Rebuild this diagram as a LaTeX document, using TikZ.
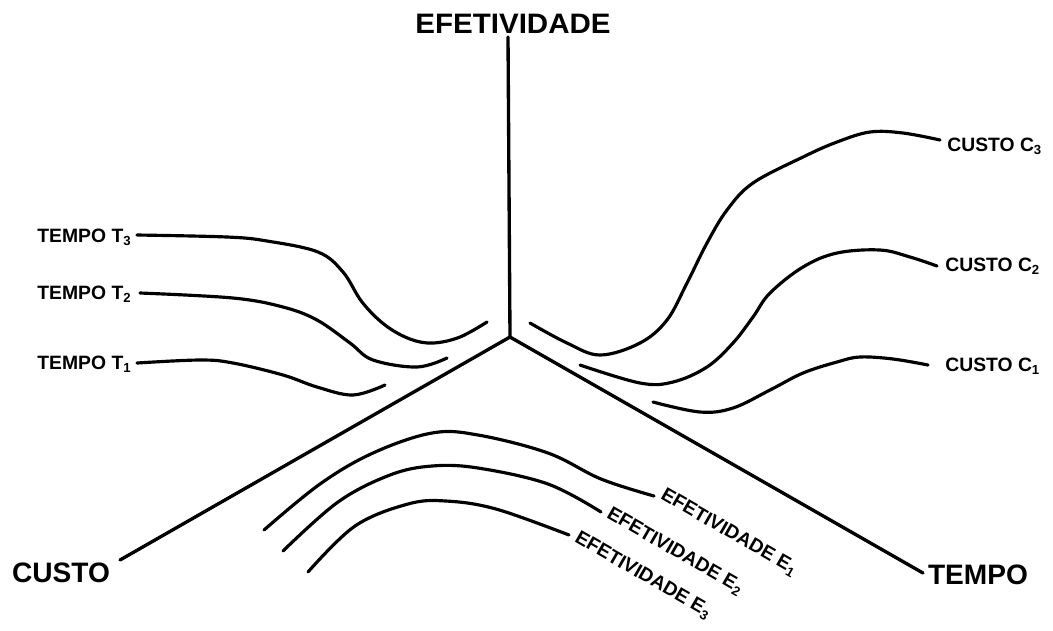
\documentclass[tikz,border=0pt]{standalone}
\usepackage{fontspec}
\setmainfont{Liberation Sans}
\newcommand{\sbs}[1]{\raisebox{-0.35ex}{\fontsize{7.5}{8}\selectfont #1}}
\begin{document}
\begin{tikzpicture}[x=0.02cm,y=-0.02cm,
  axisline/.style={line width=1.9pt, line cap=round},
  curveline/.style={line width=1.8pt, line cap=round},
  biglabel/.style={font=\fontsize{16}{18}\selectfont\bfseries, inner sep=0pt},
  smalllabel/.style={font=\fontsize{11}{13}\selectfont\bfseries, inner sep=0pt}]
\useasboundingbox (0,0) rectangle (1053,630);
% axes
\coordinate (o) at (510,337);
\coordinate (top) at (508,37);
\coordinate (left) at (120,560);
\coordinate (right) at (923,573);
\draw[axisline] (o) -- (top);
\draw[axisline] (o) -- (left);
\draw[axisline] (o) -- (right);
\node[biglabel, xscale=1.05] (efe) at (513,24) {EFETIVIDADE};
\node[biglabel] (custo) at (61,573) {CUSTO};
\node[biglabel] (tempo) at (978,575) {TEMPO};
% TEMPO curves
\node[smalllabel, anchor=base east] (t3) at (131,242) {TEMPO T\sbs{3}};
\node[smalllabel, anchor=base east] (t2) at (131,299) {TEMPO T\sbs{2}};
\node[smalllabel, anchor=base east] (t1) at (131,369) {TEMPO T\sbs{1}};
\draw[curveline] plot[smooth, tension=0.6] coordinates {(137,235) (227,237) (267,241) (318,252) (343,272) (362,302) (385,325) (410,339) (433,343) (460,337) (487,322)};
\draw[curveline] plot[smooth, tension=0.6] coordinates {(140,293) (233,298) (283,307) (317,320) (350,343) (373,360) (417,367) (447,358)};
\draw[curveline] plot[smooth, tension=0.6] coordinates {(137,363) (200,360) (233,363) (283,375) (317,387) (353,395) (385,385)};
% CUSTO curves
\node[smalllabel, anchor=base west] (c3) at (947,151) {CUSTO C\sbs{3}};
\node[smalllabel, anchor=base west] (c2) at (945,271) {CUSTO C\sbs{2}};
\node[smalllabel, anchor=base west] (c1) at (945,371) {CUSTO C\sbs{1}};
\draw[curveline] plot[smooth, tension=0.6] coordinates {(530,323) (567,343) (600,355) (640,343) (667,320) (687,283) (707,243) (727,210) (753,183) (803,157) (837,142) (870,132) (903,133) (940,140)};
\draw[curveline] plot[smooth, tension=0.6] coordinates {(580,365) (640,383) (673,382) (707,367) (733,343) (753,317) (770,293) (803,267) (837,253) (880,250) (910,257) (937,266)};
\draw[curveline] plot[smooth, tension=0.6] coordinates {(653,402) (700,412) (733,408) (770,390) (803,373) (837,362) (860,357) (893,359) (928,365)};
% EFETIVIDADE curves
\draw[curveline] plot[smooth, tension=0.6] coordinates {(264,530) (320,484) (373,453) (432,433) (478,435) (548,453) (601,479) (654,496)};
\draw[curveline] plot[smooth, tension=0.6] coordinates {(283,551) (338,502) (390,475) (432,466) (478,468) (548,484) (601,512)};
\draw[curveline] plot[smooth, tension=0.6] coordinates {(308,572) (355,526) (408,504) (446,501) (496,509) (569,535)};
\node[smalllabel, anchor=west, rotate=-30] (e1) at (662,494) {EFETIVIDADE E\sbs{1}};
\node[smalllabel, anchor=west, rotate=-30] (e2) at (608,513) {EFETIVIDADE E\sbs{2}};
\node[smalllabel, anchor=west, rotate=-30] (e3) at (576,537) {EFETIVIDADE E\sbs{3}};
\end{tikzpicture}
\end{document}
